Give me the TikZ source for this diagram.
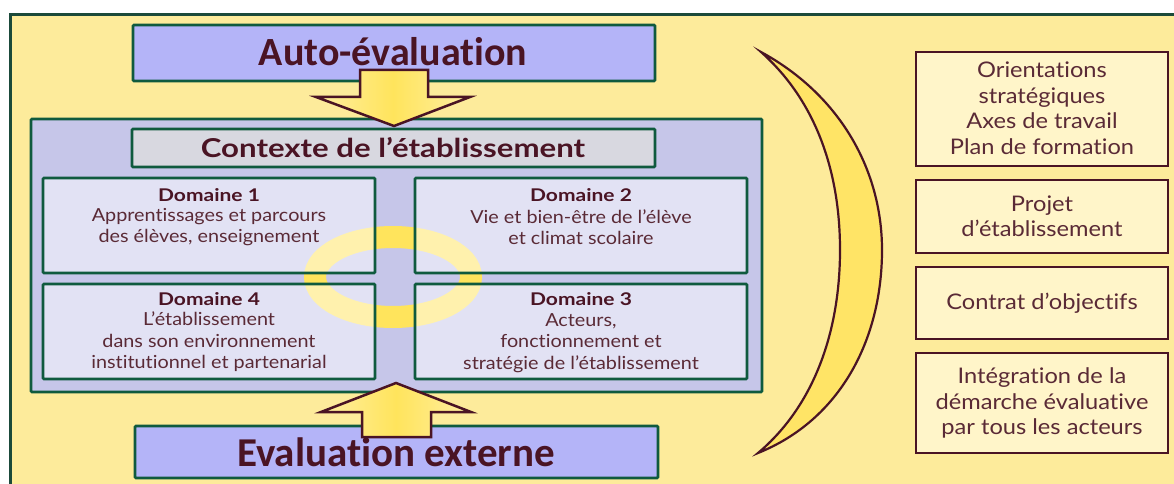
\documentclass[tikz,border=0pt]{standalone}
\usepackage{fontspec}
\setmainfont[FakeStretch=1.1,RawFeature={-liga;-clig;-dlig;-calt}]{Lato}
\newfontfamily\wbold[FakeStretch=1.2,RawFeature={-liga;-clig;-dlig;-calt}]{Lato}
\newfontfamily\calfont[RawFeature={-liga;-clig;-dlig;-calt}]{Carlito}
\definecolor{bgY}{HTML}{FDEB9B}
\definecolor{frameG}{HTML}{1B4A3A}
\definecolor{boxG}{HTML}{0F5A3E}
\definecolor{lav}{HTML}{B4B4F8}
\definecolor{panelC}{HTML}{C6C6E9}
\definecolor{ctxgray}{HTML}{D8D8E0}
\definecolor{maroon}{HTML}{4A1424}
\definecolor{txt}{HTML}{5A2A36}
\definecolor{ringY}{HTML}{FFE45C}
\definecolor{cream}{HTML}{FFF5C9}
\definecolor{crescY}{HTML}{FFE466}
\begin{document}
\begin{tikzpicture}[x=1pt,y=-1pt,
  gbox/.style={draw=boxG,line width=2.8pt,rounded corners=1pt,inner sep=0pt,outer sep=0pt,anchor=north west},
  evalbox/.style={gbox,fill=lav},
  dombox/.style={gbox,fill=white,fill opacity=0.5,draw opacity=1,minimum width=332pt,minimum height=95pt},
  rbox/.style={draw=maroon,line width=2.8pt,fill=cream,inner sep=0pt,outer sep=0pt,anchor=north west,minimum width=252pt},
  bigtitle/.style={font=\calfont\bfseries\fontsize{40}{44}\selectfont,text=maroon},
  domtitle/.style={font=\wbold\bfseries\fontsize{17.5}{20}\selectfont,text=maroon},
  domtext/.style={font=\fontsize{18}{21.5}\selectfont,text=txt,align=center},
  rtext/.style={font=\fontsize{21.5}{25.5}\selectfont,text=txt,align=center},
  bigarrow/.style={draw=maroon,line width=2.5pt,line join=miter,left color=crescY!60!white,right color=crescY!60!white,middle color=ringY}
]
\useasboundingbox (0,0) rectangle (1174,484);
\clip (0,0) rectangle (1174,484);
\fill[white] (0,0) rectangle (1174,484);
\draw[fill=bgY,draw=frameG,line width=3pt] (10,15) rectangle (1200,510);

% evaluation boxes
\node[evalbox,minimum width=522pt,minimum height=56pt] (auto) at (133,25) {};
\node[bigtitle] (autot) at (393,52) {Auto-évaluation};
\node[evalbox,minimum width=523pt,minimum height=52pt] (ext) at (135,426) {};
\node[bigtitle,font=\calfont\bfseries\fontsize{41}{44}\selectfont] (extt) at (396,452) {Evaluation externe};

% context panel
\node[gbox,fill=panelC,minimum width=731pt,minimum height=273pt] (panel) at (31,119) {};
\node[gbox,fill=ctxgray,minimum width=523pt,minimum height=38pt] (ctx) at (132,129) {};
\node[font=\wbold\bfseries\fontsize{26}{30}\selectfont,text=maroon] (ctxt) at (393,148) {Contexte de l’établissement};

% ring
\draw[ringY,line width=22pt] (393,277) ellipse [x radius=78, y radius=40];

% domains
\node[dombox] (d1) at (43,178) {};
\node[dombox] (d2) at (415,178) {};
\node[dombox] (d4) at (43,284) {};
\node[dombox] (d3) at (415,284) {};
\node[domtitle] (d1t) at (209,195) {Domaine 1};
\node[domtext] (d1b) at (209,227) {Apprentissages et parcours\\des élèves, enseignement};
\node[domtitle] (d2t) at (581,195) {Domaine 2};
\node[domtext] (d2b) at (581,227) {Vie et bien-être de l’élève\\et climat scolaire};
\node[domtitle] (d4t) at (209,299) {Domaine 4};
\node[domtext] (d4b) at (209,342) {L’établissement\\dans son environnement\\institutionnel et partenarial};
\node[domtitle] (d3t) at (581,299) {Domaine 3};
\node[domtext] (d3b) at (581,343) {Acteurs,\\fonctionnement et\\stratégie de l’établissement};

% arrows
\draw[bigarrow] (360,70) -- (428,70) -- (428,97) -- (470,97) -- (394,126) -- (316,97) -- (360,97) -- cycle;
\draw[bigarrow] (362,437) -- (431,437) -- (431,412) -- (471,412) -- (396,383) -- (321,412) -- (362,412) -- cycle;

% crescent
\draw[draw=maroon,line width=2.2pt,fill=crescY,line join=miter]
  (761,52) .. controls (840,95) and (882,170) .. (882,250)
  .. controls (882,340) and (840,420) .. (758,453)
  .. controls (815,405) and (840,330) .. (840,250)
  .. controls (840,170) and (815,100) .. (761,52) -- cycle;

% right boxes
\node[rbox,minimum height=114pt] (r1) at (916,52) {};
\node[rtext] (r1t) at (1042,108) {Orientations\\stratégiques\\Axes de travail\\Plan de formation};
\node[rbox,minimum height=73pt] (r2) at (916,180) {};
\node[rtext] (r2t) at (1042,216) {Projet\\d’établissement};
\node[rbox,minimum height=72pt] (r3) at (916,267) {};
\node[rtext] (r3t) at (1042,303) {Contrat d’objectifs};
\node[rbox,minimum height=100pt] (r4) at (916,353) {};
\node[rtext] (r4t) at (1042,403) {Intégration de la\\démarche évaluative\\par tous les acteurs};
\end{tikzpicture}
\end{document}
